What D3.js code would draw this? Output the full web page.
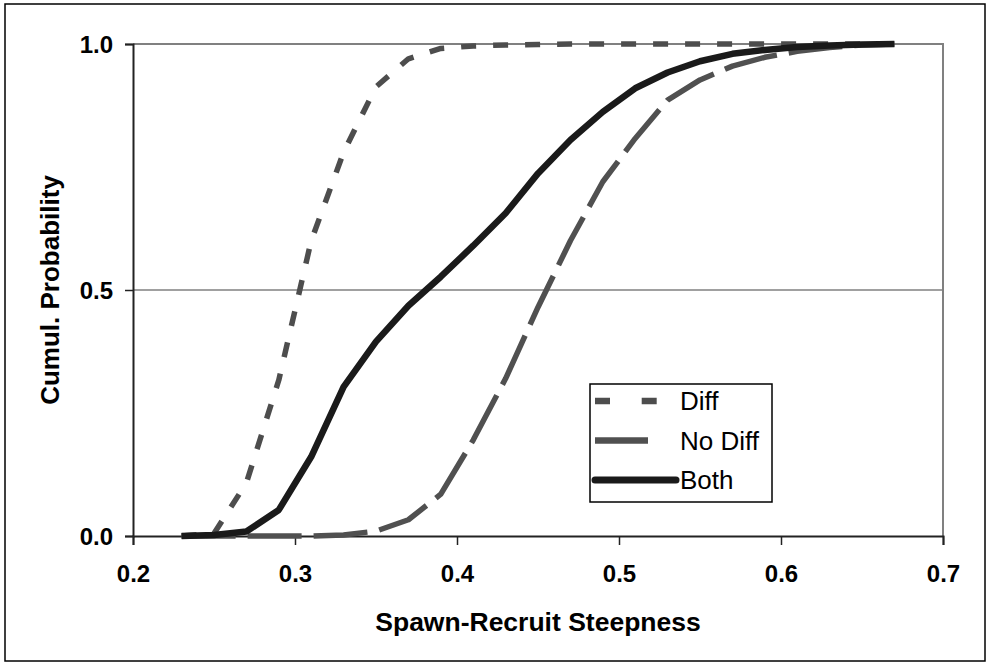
<!DOCTYPE html>
<html>
<head>
<meta charset="utf-8">
<script src="https://cdn.jsdelivr.net/npm/d3@7"></script>
<style>
	body { margin: 0; background: #fff; }
	svg { display: block; font-family: Arial, 'Liberation Sans', sans-serif; }
</style>
</head>
<body>
<svg width="988" height="664"></svg>
<script>
const steepness = [0.23, 0.25, 0.27, 0.29, 0.31, 0.33, 0.35, 0.37, 0.39, 0.41, 0.43, 0.45,
	0.47, 0.49, 0.51, 0.53, 0.55, 0.57, 0.59, 0.61, 0.63, 0.65, 0.67];
const diff = [0, 0.005, 0.108, 0.317, 0.6, 0.78, 0.913, 0.97, 0.991, 0.996, 0.998, 0.999,
	1, 1, 1, 1, 1, 1, 1, 1, 1, 1, 1];
const noDiff = [0, 0, 0, 0, 0, 0.002, 0.01, 0.033, 0.085, 0.195, 0.32, 0.465,
	0.6, 0.72, 0.808, 0.886, 0.927, 0.955, 0.973, 0.985, 0.993, 0.998, 1];
const both = [0, 0.002, 0.009, 0.053, 0.161, 0.303, 0.395, 0.468, 0.527, 0.59, 0.656, 0.737,
	0.805, 0.862, 0.91, 0.942, 0.965, 0.98, 0.988, 0.994, 0.997, 0.999, 1];
const xTicks = [0.2, 0.3, 0.4, 0.5, 0.6, 0.7];
const yTicks = [0, 0.5, 1];
const seriesNames = ['Diff', 'No Diff', 'Both'];

const svg = d3.select('svg');
const width = +svg.attr('width');
const height = +svg.attr('height');

const plotLeft = 133, plotRight = 943, plotTop = 44, plotBottom = 536;

const x = d3.scaleLinear().domain([0.2, 0.7]).range([plotLeft, plotRight]);
const y = d3.scaleLinear().domain([0, 1]).range([plotBottom, plotTop]);

// outer frame
svg.append('rect')
	.attr('x', 5).attr('y', 4)
	.attr('width', width - 8).attr('height', height - 7)
	.attr('fill', 'none')
	.attr('stroke', '#000')
	.attr('stroke-width', 1.5);

// gridline at 0.5 plus top / right border of plot area
svg.append('line')
	.attr('x1', plotLeft).attr('x2', plotRight)
	.attr('y1', y(0.5)).attr('y2', y(0.5))
	.attr('stroke', '#808080').attr('stroke-width', 1.5);
svg.append('path')
	.attr('d', `M${plotLeft},${plotTop}H${plotRight}V${plotBottom}`)
	.attr('fill', 'none')
	.attr('stroke', '#808080').attr('stroke-width', 2);

const xAxis = svg.append('g')
	.attr('transform', `translate(0, ${plotBottom})`)
	.call(d3.axisBottom(x).tickValues(xTicks).tickFormat(d3.format('.1f')).tickSizeOuter(0).tickSize(9).tickPadding(20));

const yAxis = svg.append('g')
	.attr('transform', `translate(${plotLeft}, 0)`)
	.call(d3.axisLeft(y).tickValues(yTicks).tickFormat(d3.format('.1f')).tickSizeOuter(0).tickSize(8).tickPadding(12));

[xAxis, yAxis].forEach(a => {
	a.select('.domain').attr('stroke', '#222').attr('stroke-width', 2);
	a.selectAll('.tick line').attr('stroke', '#222').attr('stroke-width', 1.5);
	a.selectAll('.tick text')
		.attr('fill', '#000')
		.style('font-size', '24px')
		.style('font-weight', 'bold')
		.style('font-family', 'Arial, Liberation Sans, sans-serif');
});
yAxis.selectAll('.tick text').attr('dy', '0.36em');

// axis titles
svg.append('text')
	.attr('x', (plotLeft + plotRight) / 2)
	.attr('y', 631)
	.attr('text-anchor', 'middle')
	.style('font-size', '26.5px')
	.style('font-weight', 'bold')
	.text('Spawn-Recruit Steepness');

svg.append('text')
	.attr('transform', `translate(59, ${(plotTop + plotBottom) / 2}) rotate(-90)`)
	.attr('text-anchor', 'middle')
	.style('font-size', '26px')
	.style('font-weight', 'bold')
	.text('Cumul. Probability');

// series
const line = d3.line()
	.x(d => x(d[0]))
	.y(d => y(d[1]));

const series = [
	{ name: seriesNames[0], values: diff, color: '#4d4d4d', width: 5.5, dash: '15,17', cap: 'butt' },
	{ name: seriesNames[1], values: noDiff, color: '#505050', width: 5.5, dash: '54,12', cap: 'butt' },
	{ name: seriesNames[2], values: both, color: '#1a1a1a', width: 6.5, dash: null, cap: 'round' }
];

series.forEach(s => {
	svg.append('path')
		.datum(steepness.map((v, i) => [v, s.values[i]]))
		.attr('d', line)
		.attr('fill', 'none')
		.attr('stroke', s.color)
		.attr('stroke-width', s.width)
		.attr('stroke-dasharray', s.dash)
		.attr('stroke-linejoin', 'round');
});

// legend
const legend = svg.append('g').attr('transform', 'translate(590, 384)');
legend.append('rect')
	.attr('width', 182).attr('height', 118)
	.attr('fill', '#fff')
	.attr('stroke', '#000').attr('stroke-width', 1.5);

const legendRows = [
	{ s: series[0], y: 17, x2: 67, dash: '15,31.7' },
	{ s: series[1], y: 56.5, x2: 58, dash: null },
	{ s: series[2], y: 96, x2: 86, dash: null }
];

legendRows.forEach(r => {
	legend.append('line')
		.attr('x1', 5).attr('x2', r.x2)
		.attr('y1', r.y).attr('y2', r.y)
		.attr('stroke', r.s.color)
		.attr('stroke-width', r.s.name === 'Both' ? 7 : 6.5)
		.attr('stroke-linecap', r.s.cap)
		.attr('stroke-dasharray', r.dash);
	legend.append('text')
		.attr('x', 90)
		.attr('y', r.y)
		.attr('dy', '0.36em')
		.style('font-size', '26px')
		.text(r.s.name);
});
</script>
</body>
</html>
